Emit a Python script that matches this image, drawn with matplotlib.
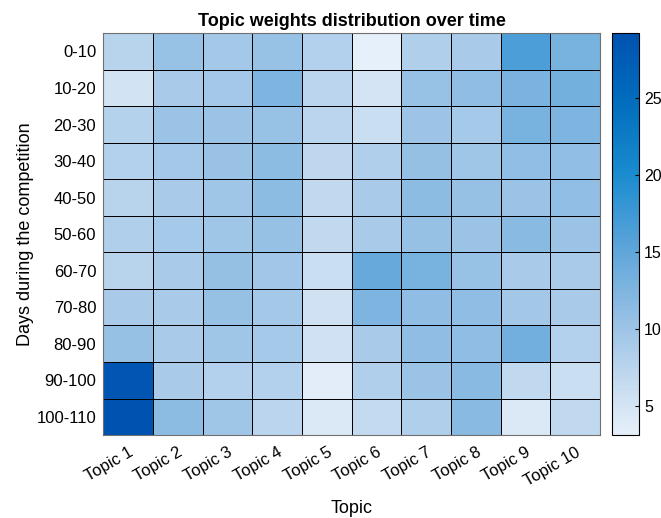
import numpy as np
import matplotlib.pyplot as plt
from matplotlib.colors import LinearSegmentedColormap

plt.rcParams["font.family"] = ["Liberation Sans", "DejaVu Sans"]

topics = [f"Topic {i}" for i in range(1, 11)]
days = ["0-10", "10-20", "20-30", "30-40", "40-50", "50-60",
        "60-70", "70-80", "80-90", "90-100", "100-110"]

# mean topic weight per 10-day window (rows) and topic (columns)
w_0_10    = [7.5, 10.5, 9.5, 10.5, 8.0, 3.1, 8.3, 9.0, 16.5, 13.0]
w_10_20   = [5.2, 9.0, 9.5, 12.5, 7.3, 5.0, 10.5, 11.2, 12.8, 13.3]
w_20_30   = [7.8, 10.2, 10.2, 10.5, 7.3, 6.0, 10.0, 9.3, 13.0, 12.5]
w_30_40   = [8.0, 9.5, 10.3, 11.3, 7.0, 8.3, 10.7, 9.8, 11.0, 11.0]
w_40_50   = [7.5, 9.0, 9.8, 11.3, 6.8, 9.0, 11.3, 10.6, 10.2, 11.0]
w_50_60   = [8.3, 9.3, 9.8, 10.6, 6.7, 9.0, 10.6, 10.2, 11.7, 10.2]
w_60_70   = [7.5, 9.0, 10.7, 9.7, 6.0, 14.5, 13.0, 10.5, 9.0, 9.0]
w_70_80   = [9.0, 9.0, 10.6, 9.5, 5.5, 12.5, 11.2, 11.2, 9.6, 9.0]
w_80_90   = [10.6, 9.0, 9.8, 9.3, 5.5, 9.0, 11.2, 11.2, 13.5, 8.0]
w_90_100  = [28.5, 9.0, 8.0, 8.0, 3.6, 8.3, 10.2, 11.7, 6.8, 6.0]
w_100_110 = [29.2, 11.3, 9.8, 7.3, 4.3, 6.6, 8.3, 11.7, 4.3, 6.7]

weights = np.array([w_0_10, w_10_20, w_20_30, w_30_40, w_40_50, w_50_60,
                    w_60_70, w_70_80, w_80_90, w_90_100, w_100_110])

vmin, vmax = weights.min(), weights.max()
anchors = [(3.1, "#e6f0fa"), (5, "#d4e4f4"), (10, "#9dc4e6"), (15, "#60a6da"),
           (20, "#1a8ccf"), (25, "#006cbc"), (29.2, "#0052b0")]
cmap = LinearSegmentedColormap.from_list(
    "blues", [((v - vmin) / (vmax - vmin), c) for v, c in anchors])

fig = plt.figure(figsize=(6.61, 5.18), dpi=100)
ax = fig.add_axes([0.156, 0.160, 0.752, 0.776])
cax = fig.add_axes([0.926, 0.160, 0.041, 0.776])

mesh = ax.pcolormesh(weights, cmap=cmap, vmin=vmin, vmax=vmax,
                     edgecolors="black", linewidth=0.6)
ax.set_ylim(len(days), 0)
ax.set_xticks(np.arange(len(topics)) + 0.5)
ax.set_xticklabels(topics, rotation=30, ha="right", rotation_mode="anchor")
ax.set_yticks(np.arange(len(days)) + 0.5)
ax.set_yticklabels(days)
ax.tick_params(length=0, labelsize=12, pad=5)
ax.tick_params(axis="x", pad=7)
for s in ax.spines.values():
    s.set_color("#707070")

ax.set_title("Topic weights distribution over time", fontsize=13,
             fontweight="bold", pad=5)
ax.set_xlabel("Topic", fontsize=13, labelpad=8)
ax.set_ylabel("Days during the competition", fontsize=13, labelpad=2)

cb = fig.colorbar(mesh, cax=cax, ticks=[5, 10, 15, 20, 25])
cb.outline.set_edgecolor("black")
cax.tick_params(labelsize=11.5, length=3, direction="in")

fig.savefig("out.png", dpi=100)
